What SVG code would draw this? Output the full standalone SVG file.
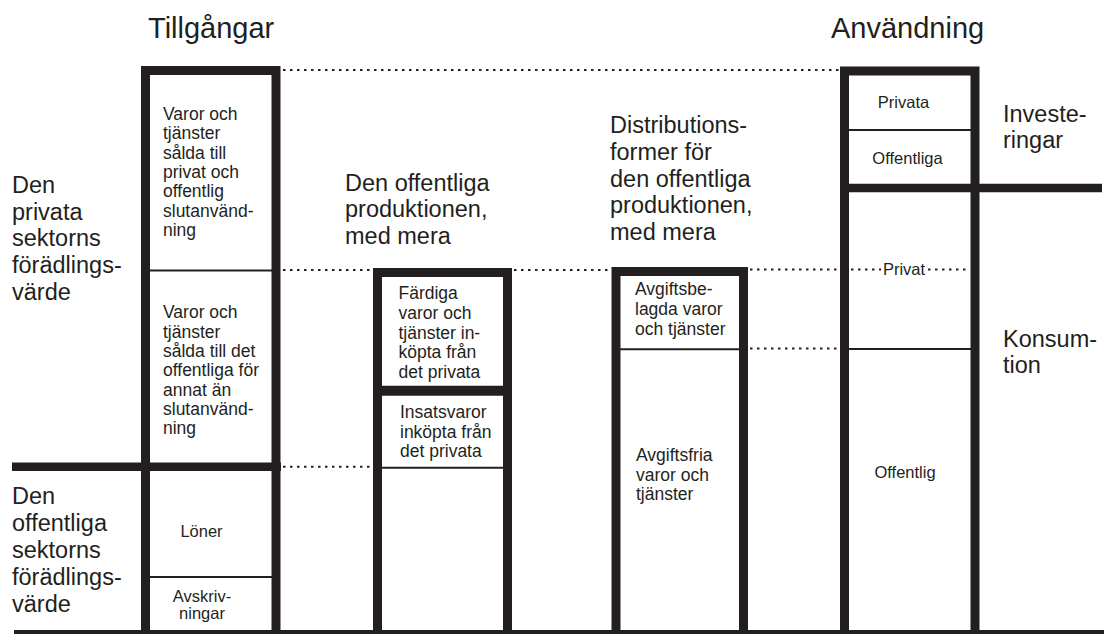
<svg xmlns="http://www.w3.org/2000/svg" width="1104" height="634" viewBox="0 0 1104 634">
<style>
.bar{fill:none;stroke:#231f20;stroke-width:9;stroke-linejoin:miter}
.thick{stroke:#231f20;stroke-width:8.5}
.thin{stroke:#231f20;stroke-width:2}
.dot{stroke:#231f20;stroke-width:2;stroke-dasharray:2.5 4.5}
text{font-family:"Liberation Sans",Arial,sans-serif;fill:#231f20}
.t{font-size:29px}
.l{font-size:23.5px}
.b{font-size:17.5px}
.s{font-size:16.5px}
.m{text-anchor:middle}
</style>
<rect width="1104" height="634" fill="#fff"/>
<g id="titles">
<text class="t" x="148" y="38">Tillgångar</text>
<text class="t" x="831" y="38">Användning</text>
</g>
<g id="label-private-sector">
<text class="l" x="12" y="193">Den</text>
<text class="l" x="12" y="219.7">privata</text>
<text class="l" x="12" y="246.4">sektorns</text>
<text class="l" x="12" y="273.1">förädlings-</text>
<text class="l" x="12" y="299.8">värde</text>
</g>
<g id="label-public-sector">
<text class="l" x="12" y="504">Den</text>
<text class="l" x="12" y="531">offentliga</text>
<text class="l" x="12" y="558">sektorns</text>
<text class="l" x="12" y="585">förädlings-</text>
<text class="l" x="12" y="612">värde</text>
</g>
<g id="label-public-production">
<text class="l" x="345" y="190.5">Den offentliga</text>
<text class="l" x="345" y="217.2">produktionen,</text>
<text class="l" x="345" y="243.9">med mera</text>
</g>
<g id="label-distribution">
<text class="l" x="610" y="133.3">Distributions-</text>
<text class="l" x="610" y="160">former för</text>
<text class="l" x="610" y="186.7">den offentliga</text>
<text class="l" x="610" y="213.4">produktionen,</text>
<text class="l" x="610" y="240.1">med mera</text>
</g>
<g id="label-investments">
<text class="l" x="1003" y="121.5">Investe-</text>
<text class="l" x="1003" y="148.2">ringar</text>
</g>
<g id="label-consumption">
<text class="l" x="1003" y="347">Konsum-</text>
<text class="l" x="1003" y="373">tion</text>
</g>
<g id="col-tillgangar">
<path class="bar" d="M145.5 632 V70.5 H276 V632"/>
<line class="thin" x1="150" y1="270.6" x2="272" y2="270.6"/>
<line class="thick" x1="12" y1="466.7" x2="281" y2="466.7"/>
<line class="thin" x1="150" y1="577" x2="272" y2="577"/>
<text class="b" x="163" y="120">Varor och</text>
<text class="b" x="163" y="139.3">tjänster</text>
<text class="b" x="163" y="158.6">sålda till</text>
<text class="b" x="163" y="178">privat och</text>
<text class="b" x="163" y="197.3">offentlig</text>
<text class="b" x="163" y="216.6">slutanvänd-</text>
<text class="b" x="163" y="236">ning</text>
<text class="b" x="163" y="318.3">Varor och</text>
<text class="b" x="163" y="337.6">tjänster</text>
<text class="b" x="163" y="357">sålda till det</text>
<text class="b" x="163" y="376.3">offentliga för</text>
<text class="b" x="163" y="395.6">annat än</text>
<text class="b" x="163" y="415">slutanvänd-</text>
<text class="b" x="163" y="434.3">ning</text>
<text class="s m" x="201.5" y="537" font-size="15.5">Löner</text>
<text class="s m" x="202" y="601.5" font-size="14.5">Avskriv-</text>
<text class="s m" x="202" y="618.5" font-size="14.5">ningar</text>
</g>
<g id="col-offentlig-produktion">
<path class="bar" d="M377.5 632 V272.5 H507.5 V632"/>
<line stroke="#231f20" stroke-width="10" x1="382" y1="390.7" x2="503" y2="390.7"/>
<line class="thin" x1="382" y1="467.7" x2="503" y2="467.7"/>
<text class="b" x="398.5" y="299.3">Färdiga</text>
<text class="b" x="398.5" y="319">varor och</text>
<text class="b" x="398.5" y="338.7">tjänster in-</text>
<text class="b" x="398.5" y="358.4">köpta från</text>
<text class="b" x="398.5" y="378.1">det privata</text>
<text class="b" x="400" y="418.3">Insatsvaror</text>
<text class="b" x="400" y="437.8">inköpta från</text>
<text class="b" x="400" y="457.3">det privata</text>
</g>
<g id="col-distribution">
<path class="bar" d="M616 632 V271.5 H743.5 V632"/>
<line class="thin" x1="620" y1="349.3" x2="739" y2="349.3"/>
<text class="b" x="635" y="295">Avgiftsbe-</text>
<text class="b" x="635" y="315">lagda varor</text>
<text class="b" x="635" y="335">och tjänster</text>
<text class="b" x="636" y="461">Avgiftsfria</text>
<text class="b" x="636" y="480.5">varor och</text>
<text class="b" x="636" y="500">tjänster</text>
</g>
<g id="col-anvandning">
<path class="bar" d="M844.5 632 V71 H975 V632"/>
<line class="thin" x1="849" y1="130" x2="971" y2="130"/>
<line class="thick" x1="844" y1="188" x2="1102" y2="188"/>
<line class="thin" x1="849" y1="349" x2="971" y2="349"/>
<text class="s m" x="903.5" y="107.5">Privata</text>
<text class="s m" x="907.5" y="163.5">Offentliga</text>
<text class="s m" x="904" y="275">Privat</text>
<text class="s m" x="905" y="478">Offentlig</text>
</g>
<g id="connectors">
<line class="dot" x1="283" y1="70" x2="840" y2="70"/>
<line class="dot" x1="283" y1="270" x2="373" y2="270"/>
<line class="dot" x1="514" y1="270" x2="612" y2="270"/>
<line class="dot" x1="750" y1="269.5" x2="840" y2="269.5"/>
<line class="dot" x1="851" y1="269.5" x2="881" y2="269.5"/>
<line class="dot" x1="928" y1="269.5" x2="970" y2="269.5"/>
<line class="dot" x1="750" y1="348.5" x2="840" y2="348.5"/>
<line class="dot" x1="283" y1="466.7" x2="373" y2="466.7"/>
<line stroke="#231f20" stroke-width="4" x1="14" y1="632" x2="1104" y2="632"/>
</g>
</svg>
